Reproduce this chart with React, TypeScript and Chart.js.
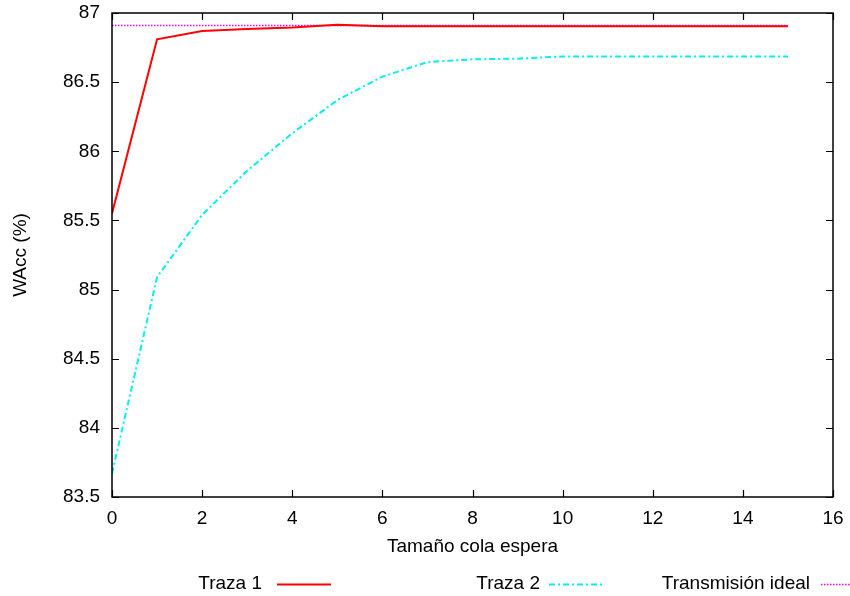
import React, { useEffect, useRef } from "react";
import { Chart, registerables } from "chart.js";

Chart.register(...registerables);

const xValues = [0, 1, 2, 3, 4, 5, 6, 7, 8, 9, 10, 11, 12, 13, 14, 15];
const traza1 = [85.55, 86.81, 86.87, 86.885, 86.895, 86.915, 86.905, 86.905, 86.905, 86.905, 86.905, 86.905, 86.905, 86.905, 86.905, 86.905];
const traza2 = [83.67, 85.09, 85.54, 85.86, 86.13, 86.37, 86.54, 86.645, 86.665, 86.67, 86.685, 86.685, 86.685, 86.685, 86.685, 86.685];
const idealX = [0, 15];
const idealY = [86.91, 86.91];
const seriesNames = ["Traza 1", "Traza 2", "Transmisión ideal"];
const xTitle = "Tamaño cola espera";
const yTitle = "WAcc (%)";

const FONT = "'Liberation Sans', Arial, Helvetica, sans-serif";
const FS = 19;

const framePlugin = {
  id: "gnuFrame",
  afterDraw(chart: any) {
    const { ctx, chartArea: a, scales } = chart;
    const xs = scales.x;
    const ys = scales.y;
    ctx.save();
    ctx.strokeStyle = "#000";
    ctx.lineWidth = 1.5;
    ctx.strokeRect(a.left, a.top, a.right - a.left, a.bottom - a.top);
    const tl = 7;
    ctx.lineWidth = 1.2;
    ctx.beginPath();
    xs.ticks.forEach((t: any) => {
      const px = Math.round(xs.getPixelForValue(t.value)) + 0.5;
      ctx.moveTo(px, a.bottom);
      ctx.lineTo(px, a.bottom - tl);
      ctx.moveTo(px, a.top);
      ctx.lineTo(px, a.top + tl);
    });
    ys.ticks.forEach((t: any) => {
      const py = Math.round(ys.getPixelForValue(t.value)) + 0.5;
      ctx.moveTo(a.left, py);
      ctx.lineTo(a.left + tl, py);
      ctx.moveTo(a.right, py);
      ctx.lineTo(a.right - tl, py);
    });
    ctx.stroke();

    // axis titles
    ctx.fillStyle = "#000";
    ctx.font = `${FS}px ${FONT}`;
    ctx.textAlign = "center";
    ctx.textBaseline = "middle";
    ctx.fillText(xTitle, (a.left + a.right) / 2, a.bottom + 50);
    ctx.save();
    ctx.translate(21, (a.top + a.bottom) / 2);
    ctx.rotate(-Math.PI / 2);
    ctx.fillText(yTitle, 0, 0);
    ctx.restore();

    // legend (gnuplot style: text, then sample)
    const legendTextRight = [262, 540, 810];
    const sampleStart = [277, 549, 821];
    const sampleLen = 54;
    const ly = a.bottom + 87;
    ctx.textAlign = "right";
    chart.data.datasets.forEach((ds: any, i: number) => {
      ctx.fillStyle = "#000";
      ctx.fillText(ds.label, legendTextRight[i], ly);
      ctx.save();
      ctx.strokeStyle = ds.borderColor;
      ctx.lineWidth = ds.borderWidth;
      ctx.setLineDash(ds.borderDash || []);
      ctx.beginPath();
      ctx.moveTo(sampleStart[i], ly + 0.5);
      ctx.lineTo(sampleStart[i] + sampleLen, ly + 0.5);
      ctx.stroke();
      ctx.restore();
    });
    ctx.restore();
  },
};

export default function App() {
  const ref = useRef<HTMLCanvasElement | null>(null);
  useEffect(() => {
    if (!ref.current) return;
    const chart = new Chart(ref.current, {
      type: "line",
      data: {
        datasets: [
          {
            label: seriesNames[0],
            data: xValues.map((x, i) => ({ x, y: traza1[i] })),
            borderColor: "#ff0000",
            borderWidth: 2,
            pointRadius: 0,
            fill: false,
            order: 1,
          },
          {
            label: seriesNames[1],
            data: xValues.map((x, i) => ({ x, y: traza2[i] })),
            borderColor: "#00f0f0",
            borderWidth: 2,
            borderDash: [6, 3, 2, 3],
            pointRadius: 0,
            fill: false,
            order: 2,
          },
          {
            label: seriesNames[2],
            data: idealX.map((x, i) => ({ x, y: idealY[i] })),
            borderColor: "#ee00ee",
            borderWidth: 1.5,
            borderDash: [1.5, 1.5],
            pointRadius: 0,
            fill: false,
            order: 3,
          },
        ],
      },
      options: {
        responsive: false,
        animation: false,
        layout: { padding: { left: 0, right: 17, top: 13, bottom: 0 } },
        plugins: { legend: { display: false }, tooltip: { enabled: false } },
        scales: {
          x: {
            type: "linear",
            min: 0,
            max: 16,
            grid: { display: false, drawTicks: false },
            border: { display: false },
            ticks: {
              stepSize: 2,
              padding: 10,
              color: "#000",
              font: { family: FONT, size: FS },
              maxRotation: 0,
              callback: (v: any) => String(v),
            },
            afterFit: (s: any) => {
              s.height = 99;
              s.paddingLeft = 0;
              s.paddingRight = 0;
            },
          },
          y: {
            min: 83.5,
            max: 87,
            grid: { display: false, drawTicks: false },
            border: { display: false },
            ticks: {
              stepSize: 0.5,
              padding: 12,
              color: "#000",
              font: { family: FONT, size: FS },
              callback: (v: any) => String(v),
            },
            afterFit: (s: any) => {
              s.width = 112;
              s.paddingTop = 0;
              s.paddingBottom = 0;
            },
          },
        },
      },
      plugins: [framePlugin],
    });
    return () => chart.destroy();
  }, []);
  return (
    <div style={{ position: "fixed", left: 0, top: 0, width: 850, height: 596, background: "#fff" }}>
      <canvas ref={ref} width={850} height={596} style={{ display: "block" }} />
    </div>
  );
}
